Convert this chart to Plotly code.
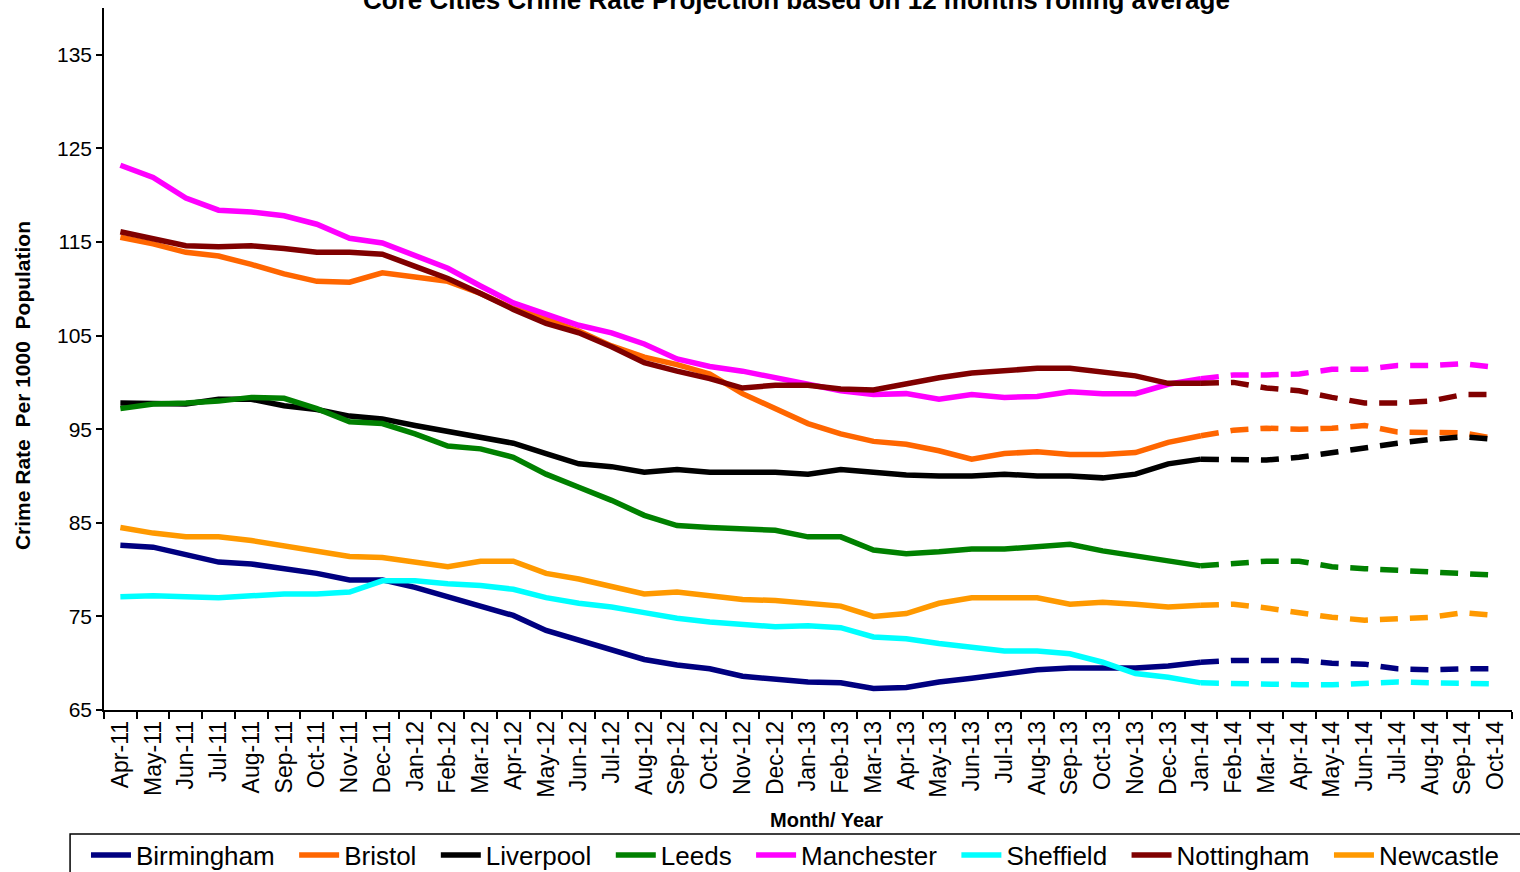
import plotly.graph_objects as go

# months on the x axis, last actual month is Jan-14, after that projection
months = ['Apr-11', 'May-11', 'Jun-11', 'Jul-11', 'Aug-11', 'Sep-11', 'Oct-11', 'Nov-11', 'Dec-11',
          'Jan-12', 'Feb-12', 'Mar-12', 'Apr-12', 'May-12', 'Jun-12', 'Jul-12', 'Aug-12', 'Sep-12',
          'Oct-12', 'Nov-12', 'Dec-12', 'Jan-13', 'Feb-13', 'Mar-13', 'Apr-13', 'May-13', 'Jun-13',
          'Jul-13', 'Aug-13', 'Sep-13', 'Oct-13', 'Nov-13', 'Dec-13', 'Jan-14', 'Feb-14', 'Mar-14',
          'Apr-14', 'May-14', 'Jun-14', 'Jul-14', 'Aug-14', 'Sep-14', 'Oct-14']
last_actual = 'Jan-14'
y_ticks = [65, 75, 85, 95, 105, 115, 125, 135]

birmingham = [82.6, 82.4, 81.6, 80.8, 80.6, 80.1, 79.6, 78.9, 78.9, 78.1, 77.1, 76.1, 75.1, 73.5, 72.5,
              71.5, 70.4, 69.8, 69.4, 68.6, 68.3, 68.0, 67.9, 67.3, 67.4, 68.0, 68.4, 68.9, 69.3, 69.5,
              69.5, 69.5, 69.7, 70.1, 70.3, 70.3, 70.3, 70.0, 69.9, 69.4, 69.3, 69.4, 69.4]
bristol = [115.5, 114.8, 113.9, 113.5, 112.6, 111.6, 110.8, 110.7, 111.7, 111.3, 110.8, 109.5, 107.9,
           106.8, 105.5, 103.9, 102.7, 101.9, 100.9, 98.8, 97.2, 95.6, 94.5, 93.7, 93.4, 92.7, 91.8,
           92.4, 92.6, 92.3, 92.3, 92.5, 93.6, 94.3, 94.9, 95.1, 95.0, 95.1, 95.4, 94.7, 94.6, 94.6, 94.0]
liverpool = [97.8, 97.8, 97.7, 98.2, 98.2, 97.5, 97.1, 96.4, 96.1, 95.4, 94.8, 94.1, 93.5, 92.4, 91.3,
             91.0, 90.4, 90.7, 90.4, 90.4, 90.4, 90.2, 90.7, 90.4, 90.1, 90.0, 90.0, 90.2, 90.0, 90.0,
             89.8, 90.2, 91.3, 91.8, 91.7, 91.7, 92.0, 92.5, 93.1, 93.5, 93.9, 94.2, 93.9]
leeds = [97.2, 97.7, 97.8, 98.0, 98.4, 98.3, 97.2, 95.8, 95.6, 94.5, 93.2, 92.9, 92.0, 90.2, 88.8,
         87.4, 85.8, 84.7, 84.5, 84.4, 84.2, 83.5, 83.5, 82.1, 81.7, 81.9, 82.2, 82.2, 82.4, 82.7,
         82.0, 81.5, 81.0, 80.4, 80.6, 80.9, 80.9, 80.3, 80.1, 79.9, 79.7, 79.6, 79.4]
manchester = [123.2, 121.9, 119.7, 118.4, 118.2, 117.8, 116.9, 115.4, 114.9, 113.5, 112.2, 110.3, 108.5,
              107.3, 106.1, 105.3, 104.1, 102.5, 101.7, 101.2, 100.5, 99.8, 99.1, 98.7, 98.8, 98.2,
              98.7, 98.4, 98.5, 99.0, 98.8, 98.8, 99.8, 100.4, 100.8, 100.8, 100.9, 101.4, 101.4,
              101.8, 101.8, 102.0, 101.6]
sheffield = [77.1, 77.2, 77.1, 77.0, 77.2, 77.4, 77.4, 77.6, 78.8, 78.8, 78.5, 78.3, 77.9, 77.0, 76.4,
             76.0, 75.4, 74.8, 74.4, 74.2, 73.9, 74.0, 73.8, 72.8, 72.6, 72.1, 71.7, 71.3, 71.3, 71.0,
             70.1, 68.9, 68.5, 67.9, 67.8, 67.7, 67.7, 67.7, 67.9, 68.0, 67.9, 67.9, 67.8]
nottingham = [116.1, 115.4, 114.6, 114.5, 114.6, 114.3, 113.9, 113.9, 113.7, 112.4, 111.1, 109.5, 107.8,
              106.3, 105.3, 103.8, 102.1, 101.2, 100.4, 99.4, 99.7, 99.7, 99.3, 99.2, 99.9, 100.5,
              101.0, 101.3, 101.5, 101.5, 101.1, 100.7, 99.9, 99.9, 100.0, 99.4, 99.1, 98.4, 97.8,
              97.8, 98.0, 98.7, 98.7]
newcastle = [84.5, 83.9, 83.5, 83.5, 83.1, 82.5, 81.9, 81.4, 81.3, 80.8, 80.3, 80.9, 80.9, 79.6, 79.0,
             78.2, 77.4, 77.6, 77.2, 76.8, 76.7, 76.4, 76.1, 75.0, 75.3, 76.4, 77.0, 77.0, 77.0, 76.3,
             76.5, 76.3, 76.0, 76.2, 76.3, 75.9, 75.4, 74.9, 74.6, 74.7, 74.9, 75.4, 75.1]

cities = [
    ('Birmingham', birmingham, '#000080'),
    ('Bristol', bristol, '#FF6600'),
    ('Liverpool', liverpool, '#000000'),
    ('Leeds', leeds, '#008000'),
    ('Manchester', manchester, '#FF00FF'),
    ('Sheffield', sheffield, '#00FFFF'),
    ('Nottingham', nottingham, '#800000'),
    ('Newcastle', newcastle, '#FF9900'),
]

cut = months.index(last_actual)

fig = go.Figure()
for name, vals, col in cities:
    # actual rolling average
    fig.add_trace(go.Scatter(x=months[:cut + 1], y=vals[:cut + 1], name=name + '\u00a0\u00a0', mode='lines',
                             legendgroup=name, line=dict(color=col, width=5.5)))
    # projection
    fig.add_trace(go.Scatter(x=months[cut:], y=vals[cut:], name=name, mode='lines',
                             legendgroup=name, showlegend=False,
                             line=dict(color=col, width=5.5, dash='18px,12px')))

fig.update_layout(
    width=1520, height=872,
    paper_bgcolor='white', plot_bgcolor='white',
    margin=dict(l=104, r=8, t=8, b=162, autoexpand=False),
    font=dict(family='Liberation Sans, Arial', color='black'),
    title=dict(text='<b>Core Cities Crime Rate Projection based on 12 months rolling average</b>',
               x=0.524, xref='container', xanchor='center',
               y=1.0, yref='container', yanchor='middle',
               font=dict(size=26, color='black')),
    showlegend=True,
    legend=dict(orientation='h', x=-0.0128, xanchor='left', y=-0.2066, yanchor='middle',
                borderwidth=0, bgcolor='rgba(0,0,0,0)',
                font=dict(size=26, family='Liberation Sans, Arial'),
                itemwidth=40, tracegroupgap=0),
    # legend frame, runs off the bottom and right of the page like the original
    shapes=[dict(type='rect', xref='paper', yref='paper', x0=-0.0241, x1=1.03, y0=-0.1766, y1=-0.35,
                 line=dict(color='black', width=1.5), fillcolor='rgba(0,0,0,0)', layer='below')],
    annotations=[
        dict(text='<b>Crime Rate\u00a0 Per 1000\u00a0 Population</b>', textangle=-90,
             xref='paper', yref='paper', x=-0.0582, y=0.4615, showarrow=False,
             xanchor='center', yanchor='middle', font=dict(size=21)),
        dict(text='<b>Month/ Year</b>', xref='paper', yref='paper', x=0.5128, y=-0.1567,
             showarrow=False, xanchor='center', yanchor='middle', font=dict(size=20)),
    ],
)

fig.update_xaxes(
    type='category', categoryorder='array', categoryarray=months, automargin=False,
    range=[-0.5, len(months) - 0.5],
    showline=True, linecolor='black', linewidth=1.5, mirror=False,
    showgrid=False, zeroline=False,
    ticks='outside', tickson='boundaries', ticklen=7, tickcolor='black', tickwidth=1.5,
    tickangle=-90, tickfont=dict(size=23),
)
fig.update_yaxes(
    range=[65, 140], tickvals=y_ticks, automargin=False,
    showline=True, linecolor='black', linewidth=1.5,
    showgrid=False, zeroline=False,
    ticks='outside', ticklen=6, tickcolor='black', tickwidth=1.5,
    tickfont=dict(size=21),
)

# page body has a default margin, drop it so the chart sits at the window corner
fig.write_html('out.html', config={'displayModeBar': False},
               post_script="document.body.style.margin='0';")
